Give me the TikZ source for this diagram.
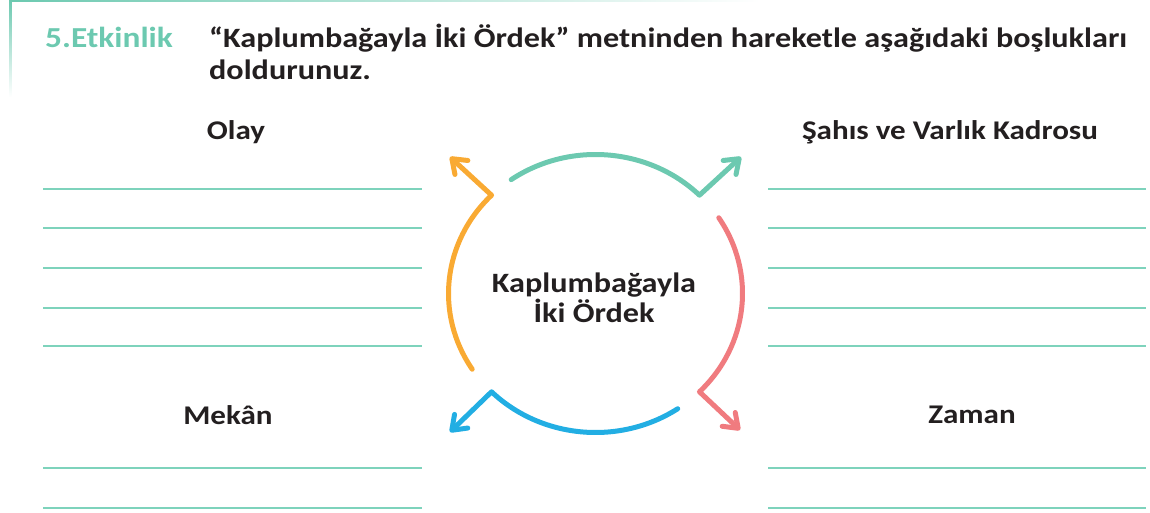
\documentclass[tikz,border=0pt]{standalone}
\usepackage{fontspec}
\setmainfont{Carlito}[FakeStretch=1.15]
\usetikzlibrary{arrows.meta,calc}
\definecolor{teal1}{HTML}{6CC9B0}
\definecolor{lineteal}{HTML}{7ED3BC}
\definecolor{orng}{HTML}{F9AA33}
\definecolor{redc}{HTML}{F07B7F}
\definecolor{bluec}{HTML}{22AEE3}
\definecolor{txt}{HTML}{231F20}
\tikzset{
  lbl/.style={font=\bfseries\fontsize{27}{30}\selectfont, text=txt, inner sep=0pt},
  hdr/.style={font=\bfseries\fontsize{28}{32}\selectfont, text=txt, inner sep=0pt},
  blank/.style={draw=lineteal, line width=2.5pt},
  arcline/.style={line width=5pt, line cap=round, line join=round,
     -{Straight Barb[length=13pt,width=19pt,round,line width=5pt]}},
}
\begin{document}
\begin{tikzpicture}[x=1pt,y=1pt]
\useasboundingbox (0,0) rectangle (1150,512);
% header frame
\shade[left color=teal1, right color=white] (10,510) rectangle (760,512.5);
\shade[top color=teal1, bottom color=white] (9,415) rectangle (11.5,512);
\node[hdr, font=\bfseries\fontsize{29}{32}\selectfont, text=teal1, anchor=base west] (act) at (45,464) {5.Etkinlik};
\node[hdr, anchor=base west] (t1) at (209,464) {“Kaplumbağayla İki Ördek” metninden hareketle aşağıdaki boşlukları};
\node[hdr, anchor=base west] (t2) at (209,432) {doldurunuz.};
% headings
\node[lbl] (olay) at (236,380) {Olay};
\node[lbl] (sahis) at (950,380) {Şahıs ve Varlık Kadrosu};
\node[lbl] (mekan) at (228,97) {Mekân};
\node[lbl] (zaman) at (972,97) {Zaman};
% blanks
\foreach \y [count=\i] in {323,284,244,204,166} {
  \coordinate (la\i) at (43,\y); \coordinate (lb\i) at (422,\y);
  \coordinate (ra\i) at (768,\y); \coordinate (rb\i) at (1146,\y);
  \draw[blank] (la\i) -- (lb\i);
  \draw[blank] (ra\i) -- (rb\i);
}
\foreach \y [count=\i] in {44,4} {
  \coordinate (bla\i) at (43,\y); \coordinate (blb\i) at (422,\y);
  \coordinate (bra\i) at (768,\y); \coordinate (brb\i) at (1146,\y);
  \draw[blank] (bla\i) -- (blb\i);
  \draw[blank] (bra\i) -- (brb\i);
}
% centre
\coordinate (c) at (595.5,218.5);
\node[hdr, align=center, font=\bfseries\fontsize{28}{30}\selectfont] (title) at (594,214) {Kaplumbağayla\\İki Ördek};
\coordinate (tg) at (741,355);
\coordinate (to) at (450,355);
\coordinate (tr) at (740,82);
\coordinate (tb) at (450,80);
\draw[arcline, teal1] ($(c)+(125:147 and 139)$) arc[start angle=125, end angle=45, x radius=147, y radius=139] -- (tg);
\draw[arcline, orng] ($(c)+(213:147 and 139)$) arc[start angle=213, end angle=135, x radius=147, y radius=139] -- (to);
\draw[arcline, redc] ($(c)+(33:147 and 139)$) arc[start angle=33, end angle=-45, x radius=147, y radius=139] -- (tr);
\draw[arcline, bluec] ($(c)+(-56:147 and 139)$) arc[start angle=-56, end angle=-135, x radius=147, y radius=139] -- (tb);
\end{tikzpicture}
\end{document}
